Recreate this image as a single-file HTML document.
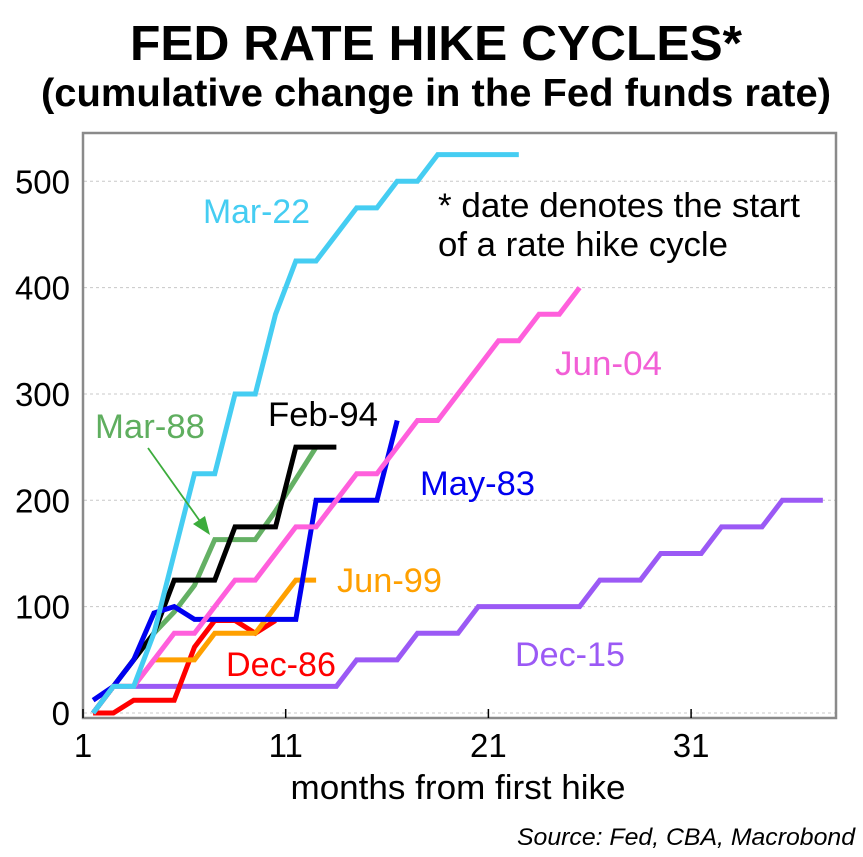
<!DOCTYPE html>
<html><head><meta charset="utf-8"><style>
body{margin:0;background:#fff;}
svg{display:block;font-family:"Liberation Sans",Arial,sans-serif;}
</style></head><body>
<svg id="chart" width="863" height="857" viewBox="0 0 863 857">
<text x="436" y="60" text-anchor="middle" font-size="49" font-weight="bold" textLength="612" lengthAdjust="spacingAndGlyphs">FED RATE HIKE CYCLES*</text>
<text x="436" y="106" text-anchor="middle" font-size="39" font-weight="bold" textLength="790" lengthAdjust="spacingAndGlyphs">(cumulative change in the Fed funds rate)</text>
<g id="grid"></g>
<rect x="83" y="133" width="753" height="585" fill="none" stroke="#8a8a8a" stroke-width="2.5"/>
<g id="ticks"></g>
<g id="series"></g>
<text x="458" y="799" text-anchor="middle" font-size="34" textLength="335" lengthAdjust="spacingAndGlyphs">months from first hike</text>
<text x="855" y="845" text-anchor="end" font-size="24" font-style="italic" textLength="338" lengthAdjust="spacingAndGlyphs">Source: Fed, CBA, Macrobond</text>
<text x="438" y="217" font-size="34" textLength="362" lengthAdjust="spacingAndGlyphs">* date denotes the start</text>
<text x="438" y="256" font-size="34" textLength="290" lengthAdjust="spacingAndGlyphs">of a rate hike cycle</text>
<text x="203" y="223" font-size="34" fill="#45cdf2" textLength="107" lengthAdjust="spacingAndGlyphs">Mar-22</text>
<text x="95" y="438" font-size="34" fill="#5fae5f" textLength="110" lengthAdjust="spacingAndGlyphs">Mar-88</text>
<text x="268" y="426" font-size="34" fill="#000" textLength="110" lengthAdjust="spacingAndGlyphs">Feb-94</text>
<text x="555" y="375" font-size="34" fill="#f25fd6" textLength="107" lengthAdjust="spacingAndGlyphs">Jun-04</text>
<text x="420" y="495" font-size="34" fill="#0000f0" textLength="115" lengthAdjust="spacingAndGlyphs">May-83</text>
<text x="337" y="592" font-size="34" fill="#ffa000" textLength="105" lengthAdjust="spacingAndGlyphs">Jun-99</text>
<text x="226" y="676" font-size="34" fill="#ff0000" textLength="110" lengthAdjust="spacingAndGlyphs">Dec-86</text>
<text x="515" y="666" font-size="34" fill="#9b59f5" textLength="110" lengthAdjust="spacingAndGlyphs">Dec-15</text>
<line x1="148" y1="448" x2="202" y2="524" stroke="#3cac3c" stroke-width="1.8"/>
<polygon points="210,535 193,524 205,516" fill="#3cac3c"/>
</svg>
<script>
const yTicks=[0,100,200,300,400,500];
const xTicks=[1,11,21,31];
const mar22=[0,25,25,75,150,225,225,300,300,375,425,425,450,475,475,500,500,525,525,525,525,525];
const dec15=[0,25,25,25,25,25,25,25,25,25,25,25,25,50,50,50,75,75,75,100,100,100,100,100,100,125,125,125,150,150,150,175,175,175,200,200,200];
const jun04=[0,25,25,50,75,75,100,125,125,150,175,175,200,225,225,250,275,275,300,325,350,350,375,375,400];
const may83=[12,25,50,94,100,88,88,88,88,88,88,200,200,200,200,275];
const feb94=[0,25,50,75,125,125,125,175,175,175,250,250,250];
const mar88=[0,25,50,75,95,120,163,163,163,190,220,250];
const dec86=[0,0,12,12,12,62,87,87,75,87];
const jun99=[0,25,25,50,50,50,75,75,75,100,125,125];
const seriesList=[
 ['dec-15',dec15,'#9b59f5'],['dec-86',dec86,'#ff0000'],['jun-99',jun99,'#ffa000'],
 ['mar-88',mar88,'#64b064'],['feb-94',feb94,'#000000'],['may-83',may83,'#0000f0'],
 ['jun-04',jun04,'#ff5fdc'],['mar-22',mar22,'#45cdf2']];
const NS='http://www.w3.org/2000/svg';
function xs(m){return 83+(m-0.5)*20.27;}
function ys(v){return 713-v*1.0635;}
const grid=document.getElementById('grid'),ticks=document.getElementById('ticks'),ser=document.getElementById('series');
yTicks.forEach(v=>{
 const l=document.createElementNS(NS,'line');
 
 
 l.setAttribute('x1',84);l.setAttribute('x2',835);l.setAttribute('y1',ys(v));l.setAttribute('y2',ys(v));
 l.setAttribute('stroke','#c8c8c8');l.setAttribute('stroke-width','1');l.setAttribute('stroke-dasharray','3,3');
 grid.appendChild(l);
 const t=document.createElementNS(NS,'text');
 
 
 t.setAttribute('x',70);t.setAttribute('y',ys(v)+12);t.setAttribute('text-anchor','end');t.setAttribute('font-size','33');
 t.textContent=v;ticks.appendChild(t);
});
xTicks.forEach(v=>{
 const l=document.createElementNS(NS,'line');
 
 
 const x=83+(v-1)*20.27;
 l.setAttribute('x1',x);l.setAttribute('x2',x);l.setAttribute('y1',709);l.setAttribute('y2',718);
 l.setAttribute('stroke','#000');l.setAttribute('stroke-width','1.5');
 ticks.appendChild(l);
 const t=document.createElementNS(NS,'text');
 
 
 t.setAttribute('x',x);t.setAttribute('y',757);t.setAttribute('text-anchor','middle');t.setAttribute('font-size','33');
 t.textContent=v;ticks.appendChild(t);
});
seriesList.forEach(s=>{
 const p=document.createElementNS(NS,'polyline');
 
 
 p.setAttribute('points',s[1].map((v,i)=>xs(i+1)+','+ys(v)).join(' '));
 p.setAttribute('fill','none');p.setAttribute('stroke',s[2]);p.setAttribute('stroke-width','5');
 ser.appendChild(p);
});
</script>
</body></html>
